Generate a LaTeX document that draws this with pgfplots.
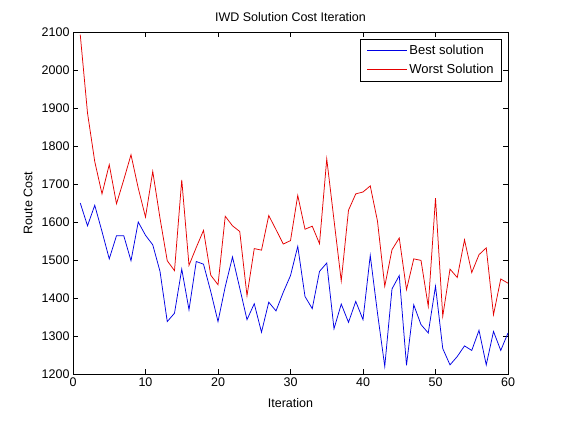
\documentclass[border=0pt]{standalone}
\usepackage{fontspec}
\setmainfont{Liberation Sans}
\usepackage{pgfplots}
\pgfplotsset{compat=1.18}
\begin{document}
\begin{tikzpicture}[x=1pt,y=1pt]
\useasboundingbox (0,0) rectangle (561,420);
\fill[white] (0,0) rectangle (561,420);
\begin{axis}[
  at={(73pt,46pt)}, anchor=south west,
  scale only axis, width=435pt, height=342pt,
  xmin=0, xmax=60, ymin=1200, ymax=2100,
  xtick={0,10,...,60}, ytick={1200,1300,...,2100},
  tick align=inside, major tick length=5pt,
  every tick/.style={black, line width=0.6pt},
  axis line style={line width=0.6pt},
  font=\fontsize{12.5pt}{14pt}\selectfont,
  /pgf/number format/assume math mode=true,
  /pgf/number format/1000 sep={},
  title={IWD Solution Cost Iteration},
  title style={at={(0.5,1)}, anchor=center, yshift=9pt},
  xlabel={Iteration},
  xlabel style={at={(axis description cs:0.5,0)}, anchor=center, yshift=-29pt},
  ylabel={Route Cost},
  ylabel style={at={(axis description cs:-0.1034,0.5)}, anchor=center, rotate=0},
  legend style={at={(1,1)}, anchor=north east, xshift=-6pt, yshift=-7pt,
    draw=black, line width=0.6pt, inner xsep=6pt, inner ysep=4pt,
    row sep=4pt, font=\fontsize{13pt}{15pt}\selectfont, cells={anchor=west}},
  legend image code/.code={\draw[#1] (0pt,0pt) -- (40pt,0pt);},
]
\addplot[blue!90!black, line width=0.75pt] coordinates {
(1,1650)(2,1590)(3,1644)(4,1575)(5,1503)(6,1564)(7,1564)(8,1498)(9,1600)(10,1565)
(11,1540)(12,1470)(13,1338)(14,1360)(15,1476)(16,1369)(17,1496)(18,1489)(19,1417)(20,1338)
(21,1430)(22,1508)(23,1426)(24,1343)(25,1385)(26,1310)(27,1389)(28,1366)(29,1415)(30,1459)
(31,1536)(32,1404)(33,1372)(34,1470)(35,1492)(36,1319)(37,1384)(38,1336)(39,1391)(40,1343)
(41,1512)(42,1360)(43,1220)(44,1424)(45,1459)(46,1223)(47,1382)(48,1330)(49,1308)(50,1431)
(51,1267)(52,1224)(53,1246)(54,1274)(55,1262)(56,1315)(57,1224)(58,1312)(59,1262)(60,1308)
};
\addlegendentry{Best solution}
\addplot[red!90!black, line width=0.75pt] coordinates {
(1,2093)(2,1887)(3,1759)(4,1674)(5,1751)(6,1648)(7,1711)(8,1777)(9,1689)(10,1613)
(11,1733)(12,1610)(13,1498)(14,1472)(15,1711)(16,1486)(17,1533)(18,1578)(19,1460)(20,1435)
(21,1615)(22,1590)(23,1575)(24,1406)(25,1530)(26,1526)(27,1617)(28,1580)(29,1542)(30,1551)
(31,1670)(32,1581)(33,1589)(34,1543)(35,1766)(36,1605)(37,1445)(38,1631)(39,1674)(40,1679)
(41,1695)(42,1602)(43,1431)(44,1527)(45,1558)(46,1422)(47,1503)(48,1499)(49,1378)(50,1663)
(51,1352)(52,1476)(53,1454)(54,1553)(55,1467)(56,1514)(57,1532)(58,1356)(59,1450)(60,1439)
};
\addlegendentry{Worst Solution}
\end{axis}
\end{tikzpicture}
\end{document}
